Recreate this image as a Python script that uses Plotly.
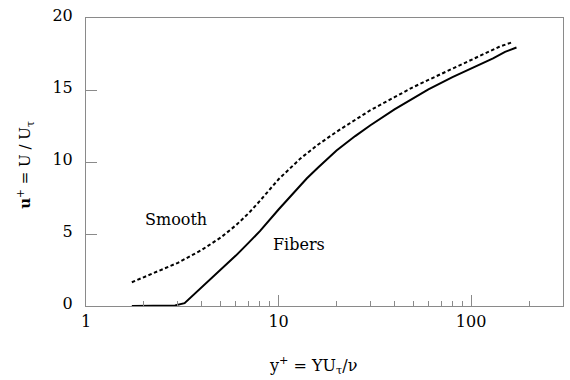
import plotly.graph_objects as go
import math

# Data
smooth_x = [1.73, 2, 2.5, 3, 4, 5, 6, 7, 8, 10, 13, 16, 20, 25, 30, 40, 50, 60, 80, 100, 120, 140, 162]
smooth_y = [1.65, 2.0, 2.55, 3.0, 3.9, 4.75, 5.6, 6.45, 7.3, 8.8, 10.25, 11.2, 12.1, 12.9, 13.6, 14.5, 15.2, 15.7, 16.5, 17.1, 17.6, 18.0, 18.3]

fibers_x = [1.73, 2, 2.9, 3.25, 4, 5, 6, 7, 8, 10, 12, 14, 16, 20, 25, 30, 40, 50, 60, 80, 100, 130, 150, 172]
fibers_y = [0, 0, 0.04, 0.2, 1.3, 2.5, 3.5, 4.4, 5.2, 6.7, 7.9, 8.85, 9.6, 10.8, 11.8, 12.55, 13.65, 14.45, 15.05, 15.9, 16.5, 17.2, 17.65, 17.95]

x_major = [1, 10, 100]
x_minor = [2, 3, 4, 5, 6, 7, 8, 9, 20, 30, 40, 50, 60, 70, 80, 90, 200]
y_ticks = [0, 5, 10, 15, 20]

FONT = "DejaVu Serif"
AX = "#8a8a8a"

fig = go.Figure()
fig.add_trace(go.Scatter(x=smooth_x, y=smooth_y, mode="lines",
                         line=dict(color="black", width=2, dash="3.5px,2.5px"),
                         showlegend=False, hoverinfo="skip"))
fig.add_trace(go.Scatter(x=fibers_x, y=fibers_y, mode="lines",
                         line=dict(color="black", width=2),
                         showlegend=False, hoverinfo="skip"))

fig.update_layout(
    width=570, height=380,
    margin=dict(l=86, r=6, t=8, b=74),
    plot_bgcolor="white", paper_bgcolor="white",
    font=dict(family=FONT, size=16, color="black"),
    xaxis=dict(type="log", range=[0, math.log10(300)],
               tickvals=x_major, ticktext=[str(v) for v in x_major],
               ticks="inside", ticklen=11, tickwidth=1, tickcolor=AX,
               minor=dict(tickvals=x_minor, ticks="inside", ticklen=5, tickwidth=1, tickcolor=AX, showgrid=False),
               showline=True, linecolor=AX, linewidth=1, mirror=True,
               showgrid=False, zeroline=False, ticklabelstandoff=1),
    yaxis=dict(range=[0, 20], tickvals=y_ticks,
               ticks="inside", ticklen=11, tickwidth=1, tickcolor=AX,
               showline=True, linecolor=AX, linewidth=1, mirror=True,
               showgrid=False, zeroline=False, ticklabelstandoff=9,
               ticklabeloverflow="allow", ticklabelshift=-3),
)

fig.add_annotation(x=math.log10(2.93), y=6.0, xref="x", yref="y", text="Smooth",
                   showarrow=False, font=dict(family=FONT, size=16))
fig.add_annotation(x=math.log10(12.8), y=4.3, xref="x", yref="y", text="Fibers",
                   showarrow=False, font=dict(family=FONT, size=16))
fig.add_annotation(x=0.475, y=-0.208, xref="paper", yref="paper",
                   xanchor="center", yanchor="middle",
                   text="y<sup>+</sup> = YU<sub>τ</sub>/ν", showarrow=False,
                   font=dict(family=FONT, size=16))
fig.add_annotation(x=-0.128, y=0.49, xref="paper", yref="paper",
                   xanchor="center", yanchor="middle",
                   text="<b>u</b><sup>+</sup> = U / U<sub>τ</sub>", showarrow=False,
                   textangle=-90, font=dict(family=FONT, size=15))

fig.write_html("out.html")
